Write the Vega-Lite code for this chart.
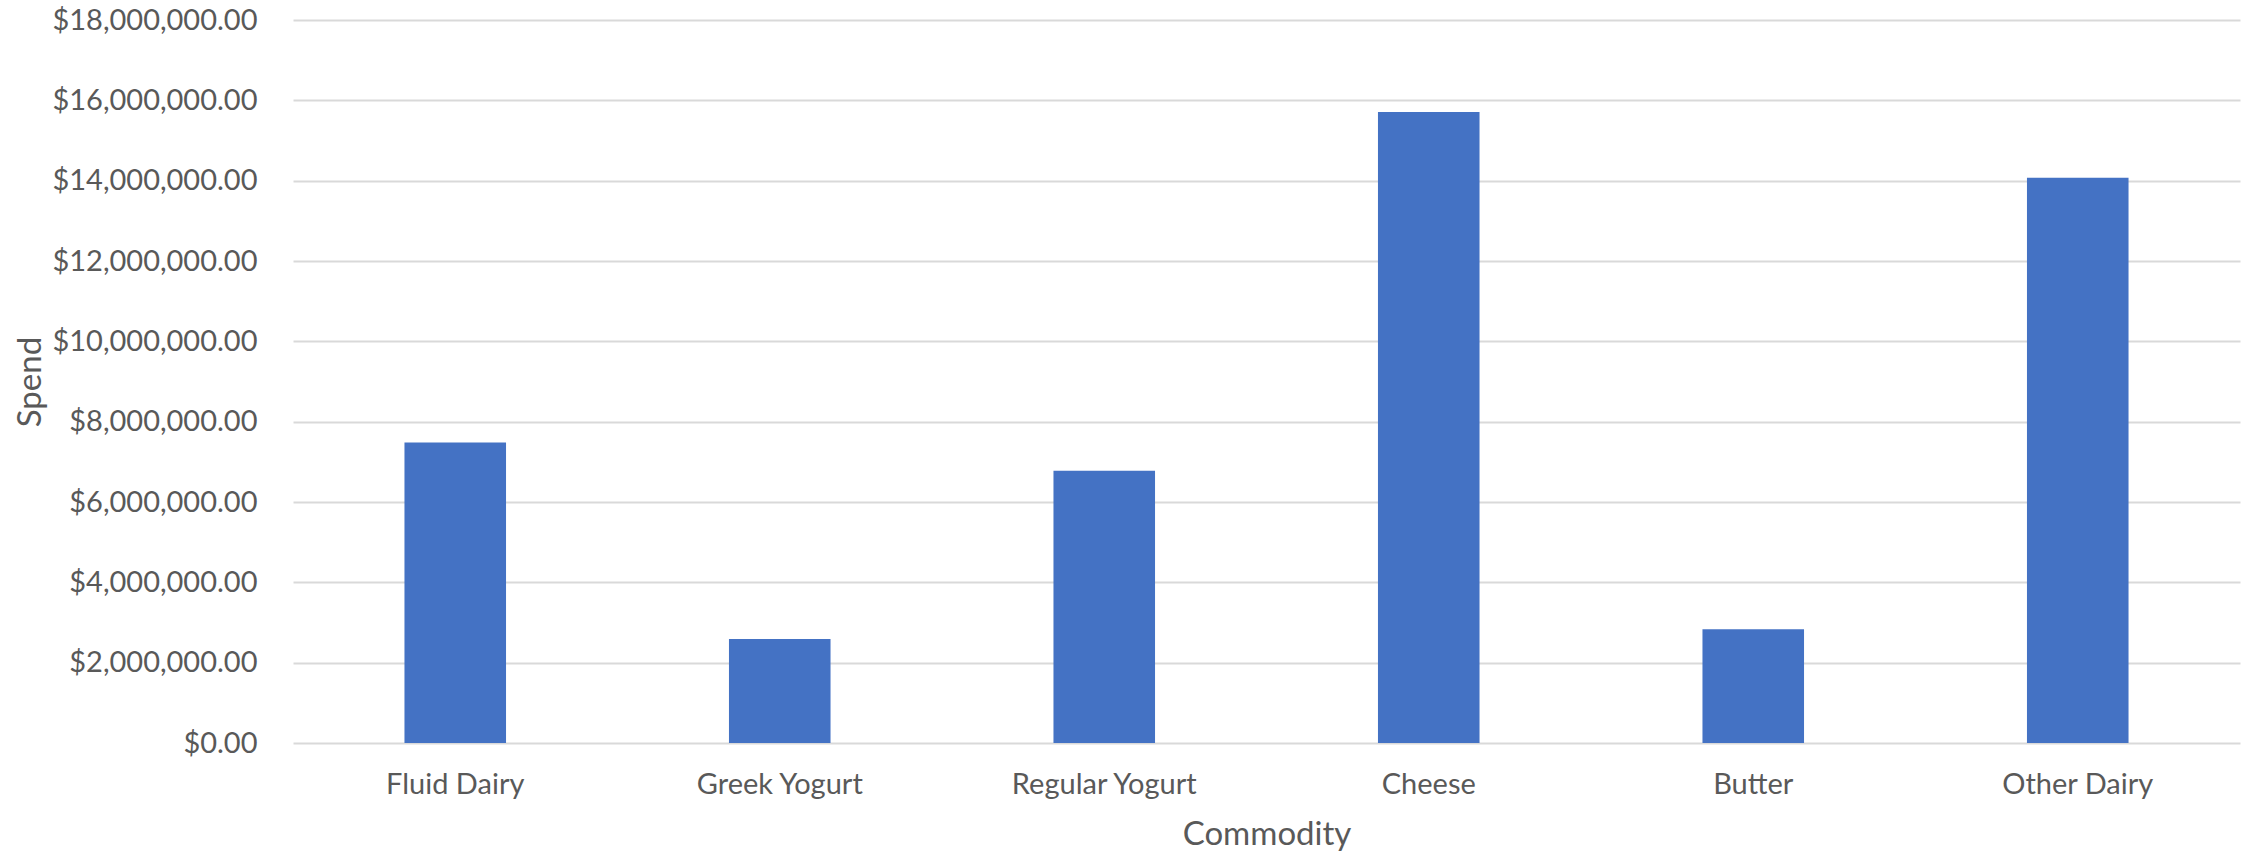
{
  "$schema": "https://vega.github.io/schema/vega-lite/v6.json",
  "width": 1947,
  "height": 723,
  "autosize": {"type": "none"},
  "padding": {"left": 293, "top": 20, "right": 8, "bottom": 110},
  "background": "white",
  "config": {"view": {"stroke": null}, "font": "Lato"},
  "data": {
    "values": [
      {"Commodity": "Fluid Dairy", "Spend": 7480000},
      {"Commodity": "Greek Yogurt", "Spend": 2590000},
      {"Commodity": "Regular Yogurt", "Spend": 6780000},
      {"Commodity": "Cheese", "Spend": 15710000},
      {"Commodity": "Butter", "Spend": 2830000},
      {"Commodity": "Other Dairy", "Spend": 14070000}
    ]
  },
  "mark": {"type": "bar", "color": "#4472C4"},
  "encoding": {
    "x": {
      "field": "Commodity",
      "type": "nominal",
      "sort": null,
      "scale": {"paddingInner": 0.687, "paddingOuter": 0.3435},
      "axis": {
        "title": "Commodity",
        "labelAngle": 0,
        "labelFont": "Lato",
        "labelFontSize": 29,
        "labelColor": "#595959",
        "labelBaseline": "middle",
        "labelPadding": 41,
        "labelOverlap": false,
        "labelLimit": 0,
        "ticks": false,
        "domain": false,
        "grid": false,
        "titleFont": "Lato",
        "titleFontSize": 33,
        "titleFontWeight": "normal",
        "titleColor": "#595959",
        "titleBaseline": "middle",
        "titleY": 91
      }
    },
    "y": {
      "field": "Spend",
      "type": "quantitative",
      "scale": {"domain": [0, 18000000], "nice": false},
      "axis": {
        "title": "Spend",
        "format": "$,.2f",
        "values": [0, 2000000, 4000000, 6000000, 8000000, 10000000, 12000000, 14000000, 16000000, 18000000],
        "labelFont": "Lato",
        "labelFontSize": 29,
        "labelColor": "#595959",
        "labelPadding": 36,
        "labelOverlap": false,
        "labelLimit": 0,
        "labelFlush": false,
        "labelBound": false,
        "ticks": false,
        "domain": false,
        "grid": true,
        "gridColor": "#D9D9D9",
        "gridWidth": 2,
        "titleFont": "Lato",
        "titleFontSize": 33,
        "titleFontWeight": "normal",
        "titleColor": "#595959",
        "titleBaseline": "middle",
        "titleAlign": "center",
        "titleX": -263,
        "titleY": 361.5
      }
    }
  }
}
